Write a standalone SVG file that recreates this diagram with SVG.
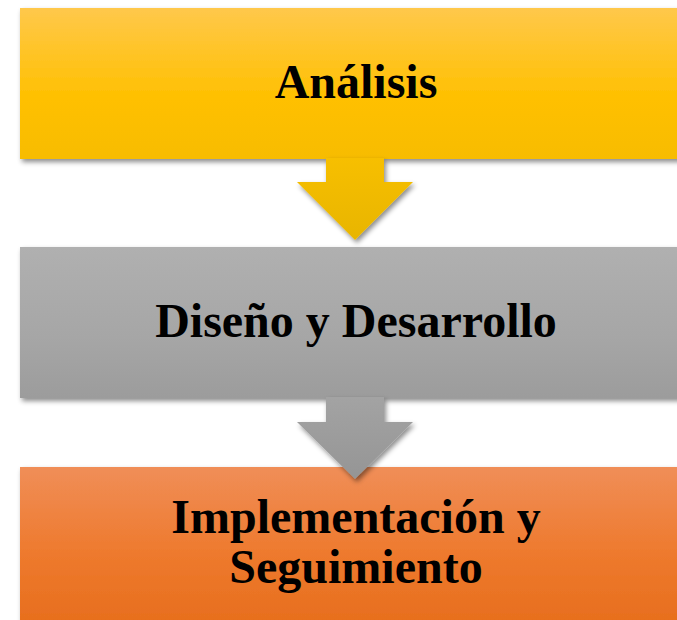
<svg xmlns="http://www.w3.org/2000/svg" width="677" height="620" viewBox="0 0 677 620">
<defs>
<linearGradient id="gY" x1="0" y1="0" x2="0" y2="1"><stop offset="0" stop-color="#FFC84B"/><stop offset="0.6" stop-color="#FFC000"/><stop offset="1" stop-color="#F7BC00"/></linearGradient>
<linearGradient id="gG" x1="0" y1="0" x2="0" y2="1"><stop offset="0" stop-color="#B0B0B0"/><stop offset="0.6" stop-color="#A6A6A6"/><stop offset="1" stop-color="#9C9C9C"/></linearGradient>
<linearGradient id="gO" x1="0" y1="0" x2="0" y2="1"><stop offset="0" stop-color="#F08E58"/><stop offset="0.5" stop-color="#EE7A2E"/><stop offset="1" stop-color="#E66C1A"/></linearGradient>
<linearGradient id="gAY" x1="0" y1="0" x2="0" y2="1"><stop offset="0" stop-color="#F7BF00"/><stop offset="1" stop-color="#E8B500"/></linearGradient>
<linearGradient id="gAG" x1="0" y1="0" x2="0" y2="1"><stop offset="0" stop-color="#A3A3A3"/><stop offset="1" stop-color="#959595"/></linearGradient>
<filter id="sh" x="-10%" y="-10%" width="130%" height="140%"><feDropShadow dx="2" dy="3" stdDeviation="2.5" flood-color="#000" flood-opacity="0.45"/></filter>
</defs>
<style>
.lbl{font-family:"Liberation Serif","Times New Roman",serif;font-weight:bold;font-size:48px;fill:#000;text-anchor:middle}
</style>
<rect width="677" height="620" fill="#fff"/>
<g id="node-analisis">
<rect x="20" y="8" width="680" height="151" fill="url(#gY)" filter="url(#sh)"/>
<text class="lbl" x="356" y="98">Análisis</text>
</g>
<g id="node-diseno">
<rect x="20" y="247" width="680" height="151" fill="url(#gG)" filter="url(#sh)"/>
<text class="lbl" x="356" y="337">Diseño y Desarrollo</text>
</g>
<g id="node-implementacion">
<rect x="20" y="467" width="680" height="170" fill="url(#gO)" filter="url(#sh)"/>
<text class="lbl" x="356" y="533">Implementación y</text>
<text class="lbl" x="356" y="583">Seguimiento</text>
</g>
<g id="connectors">
<polygon points="326,158 384,158 384,182 413,182 355,240 297,182 326,182" fill="url(#gAY)" filter="url(#sh)"/>
<polygon points="326,397 384,397 384,422 413,422 355,479 297,422 326,422" fill="url(#gAG)" filter="url(#sh)"/>
</g>
</svg>
